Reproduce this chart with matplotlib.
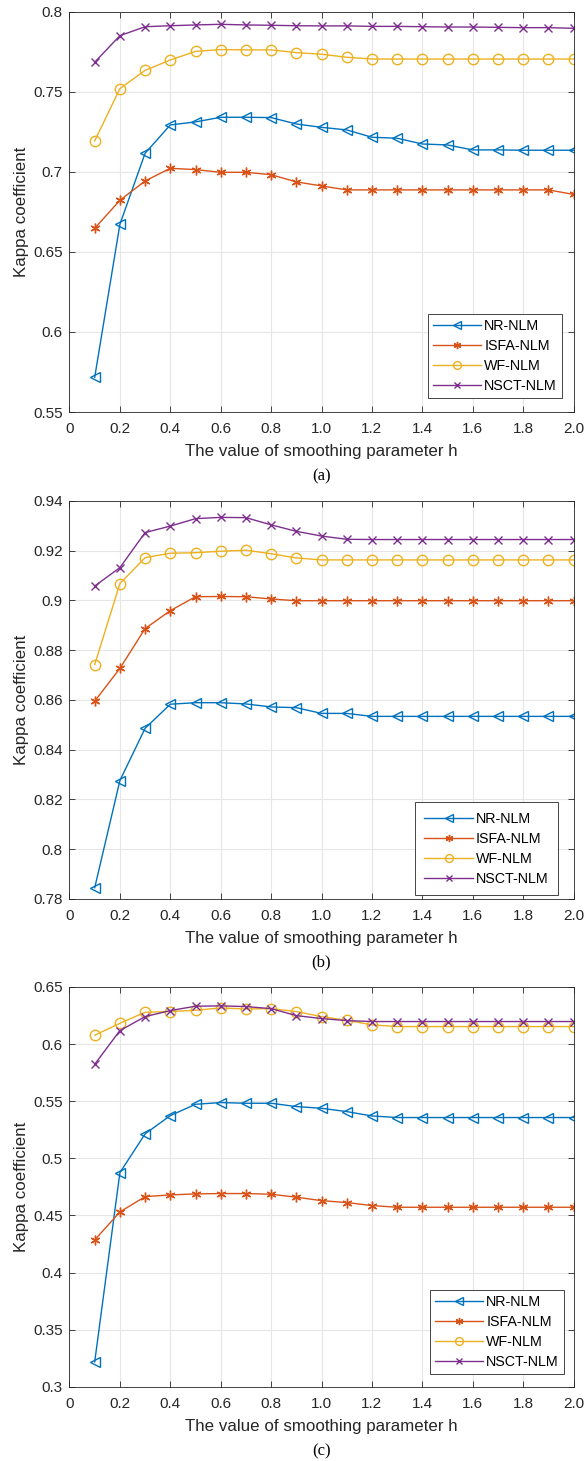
import numpy as np
import matplotlib
matplotlib.use("Agg")
import matplotlib.pyplot as plt
from matplotlib.ticker import FixedLocator, FixedFormatter

plt.rcParams['font.family'] = ['Liberation Sans', 'DejaVu Sans']

h = [0.1, 0.2, 0.3, 0.4, 0.5, 0.6, 0.7, 0.8, 0.9, 1.0,
     1.1, 1.2, 1.3, 1.4, 1.5, 1.6, 1.7, 1.8, 1.9, 2.0]
methods = ["NR-NLM", "ISFA-NLM", "WF-NLM", "NSCT-NLM"]

# (a)
nr_a = [0.5717, 0.6673, 0.7117, 0.7294, 0.7313, 0.7342, 0.7342, 0.7340, 0.7300, 0.7279,
        0.7263, 0.7217, 0.7211, 0.7175, 0.7169, 0.7138, 0.7138, 0.7136, 0.7136, 0.7136]
isfa_a = [0.6648, 0.6823, 0.6944, 0.7023, 0.7015, 0.6998, 0.6998, 0.6983, 0.6938, 0.6913,
          0.6888, 0.6888, 0.6888, 0.6888, 0.6888, 0.6888, 0.6888, 0.6888, 0.6888, 0.6860]
wf_a = [0.7194, 0.7521, 0.7635, 0.7700, 0.7754, 0.7765, 0.7763, 0.7763, 0.7746, 0.7736,
        0.7717, 0.7706, 0.7706, 0.7706, 0.7706, 0.7706, 0.7706, 0.7706, 0.7706, 0.7706]
nsct_a = [0.7686, 0.7852, 0.7908, 0.7914, 0.7919, 0.7923, 0.7919, 0.7917, 0.7914, 0.7913,
          0.7913, 0.7910, 0.7910, 0.7908, 0.7906, 0.7906, 0.7904, 0.7902, 0.7902, 0.7898]

# (b)
nr_b = [0.7845, 0.8276, 0.8486, 0.8583, 0.8589, 0.8589, 0.8584, 0.8572, 0.8569, 0.8546,
        0.8546, 0.8534, 0.8534, 0.8534, 0.8534, 0.8534, 0.8534, 0.8534, 0.8534, 0.8534]
isfa_b = [0.8595, 0.8727, 0.8887, 0.8959, 0.9015, 0.9016, 0.9015, 0.9006, 0.8999, 0.8999,
          0.8999, 0.8999, 0.8999, 0.8999, 0.8999, 0.8999, 0.8999, 0.8999, 0.8999, 0.8999]
wf_b = [0.8742, 0.9068, 0.9172, 0.9190, 0.9192, 0.9198, 0.9202, 0.9188, 0.9171, 0.9163,
        0.9163, 0.9163, 0.9163, 0.9163, 0.9163, 0.9163, 0.9163, 0.9163, 0.9163, 0.9163]
nsct_b = [0.9058, 0.9132, 0.9273, 0.9299, 0.9329, 0.9334, 0.9333, 0.9304, 0.9278, 0.9259,
          0.9246, 0.9245, 0.9245, 0.9245, 0.9245, 0.9245, 0.9245, 0.9245, 0.9245, 0.9245]

# (c)
nr_c = [0.3219, 0.4875, 0.5214, 0.5374, 0.5473, 0.5488, 0.5482, 0.5482, 0.5453, 0.5438,
        0.5409, 0.5371, 0.5357, 0.5357, 0.5357, 0.5357, 0.5357, 0.5357, 0.5357, 0.5357]
isfa_c = [0.4286, 0.4531, 0.4665, 0.4680, 0.4689, 0.4692, 0.4692, 0.4686, 0.4660, 0.4630,
          0.4613, 0.4587, 0.4572, 0.4572, 0.4572, 0.4572, 0.4572, 0.4572, 0.4572, 0.4572]
wf_c = [0.6077, 0.6182, 0.6278, 0.6284, 0.6296, 0.6316, 0.6307, 0.6310, 0.6284, 0.6240,
        0.6208, 0.6168, 0.6153, 0.6153, 0.6153, 0.6153, 0.6153, 0.6153, 0.6153, 0.6153]
nsct_c = [0.5823, 0.6118, 0.6240, 0.6293, 0.6331, 0.6334, 0.6328, 0.6310, 0.6249, 0.6223,
          0.6205, 0.6197, 0.6197, 0.6197, 0.6197, 0.6197, 0.6197, 0.6197, 0.6197, 0.6197]

xticks = [0, 0.2, 0.4, 0.6, 0.8, 1.0, 1.2, 1.4, 1.6, 1.8, 2.0]
xticklabels = ["0", "0.2", "0.4", "0.6", "0.8", "1.0", "1.2", "1.4", "1.6", "1.8", "2.0"]
yticks_a = [0.55, 0.6, 0.65, 0.7, 0.75, 0.8]
yticklabels_a = ["0.55", "0.6", "0.65", "0.7", "0.75", "0.8"]
yticks_b = [0.78, 0.8, 0.82, 0.84, 0.86, 0.88, 0.9, 0.92, 0.94]
yticklabels_b = ["0.78", "0.8", "0.82", "0.84", "0.86", "0.88", "0.9", "0.92", "0.94"]
yticks_c = [0.3, 0.35, 0.4, 0.45, 0.5, 0.55, 0.6, 0.65]
yticklabels_c = ["0.3", "0.35", "0.4", "0.45", "0.5", "0.55", "0.6", "0.65"]

colors = ["#0072BD", "#D95319", "#EDB120", "#7E2F8E"]
markers = ["<", (6, 2, 0), "o", "x"]
msizes = [7.5, 7, 7.5, 5.5]
axcol = "#262626"

fig = plt.figure(figsize=(5.86, 14.61), dpi=100)

# series, y ticks, tag, axes rect, legend anchor, legend border pad
panels = [
    ([nr_a, isfa_a, wf_a, nsct_a], yticks_a, yticklabels_a, "(a)",
     [0.1186, 0.7180, 0.8601, 0.2738], (0.977, 0.034), 0.35),
    ([nr_b, isfa_b, wf_b, nsct_b], yticks_b, yticklabels_b, "(b)",
     [0.1186, 0.3847, 0.8601, 0.2724], (0.969, 0.010), 0.65),
    ([nr_c, isfa_c, wf_c, nsct_c], yticks_c, yticklabels_c, "(c)",
     [0.1186, 0.0507, 0.8601, 0.2738], (0.981, 0.0325), 0.35),
]

for series, yt, ytl, tag, rect, legpos, bpad in panels:
    ax = fig.add_axes(rect)
    for vals, name, c, m, ms in zip(series, methods, colors, markers, msizes):
        ax.plot(h, vals, color=c, marker=m, markersize=ms, markerfacecolor="none",
                markeredgecolor=c, markeredgewidth=1.0, linewidth=1.0, label=name)
    ax.set_xlim(0, 2.0)
    ax.set_ylim(yt[0], yt[-1])
    ax.xaxis.set_major_locator(FixedLocator(xticks))
    ax.xaxis.set_major_formatter(FixedFormatter(xticklabels))
    ax.yaxis.set_major_locator(FixedLocator(yt))
    ax.yaxis.set_major_formatter(FixedFormatter(ytl))
    ax.grid(True, color="#e6e6e6", linewidth=0.8)
    ax.set_axisbelow(True)
    ax.tick_params(direction="in", length=4, width=0.6, top=True, right=True,
                   labelsize=11, colors=axcol)
    ax.tick_params(axis="x", pad=7)
    ax.tick_params(axis="y", pad=5)
    for s in ax.spines.values():
        s.set_color(axcol)
        s.set_linewidth(0.6)
    ax.set_xlabel("The value of smoothing parameter h", fontsize=12.2, color=axcol, labelpad=6)
    ax.set_ylabel("Kappa coefficient", fontsize=12.2, color=axcol, labelpad=3)
    ax.text(0.5, -0.16, tag, transform=ax.transAxes, ha="center", va="center",
            fontsize=12, family="Liberation Serif", color="black")
    leg = ax.legend(loc="lower right", bbox_to_anchor=legpos, borderaxespad=0,
                    fontsize=10.3, handlelength=3.4, handletextpad=0.2,
                    markerscale=0.75, fancybox=False, borderpad=bpad,
                    labelspacing=0.42, framealpha=1)
    leg.get_frame().set_edgecolor(axcol)
    leg.get_frame().set_linewidth(0.6)

fig.savefig("out.png", dpi=100)
